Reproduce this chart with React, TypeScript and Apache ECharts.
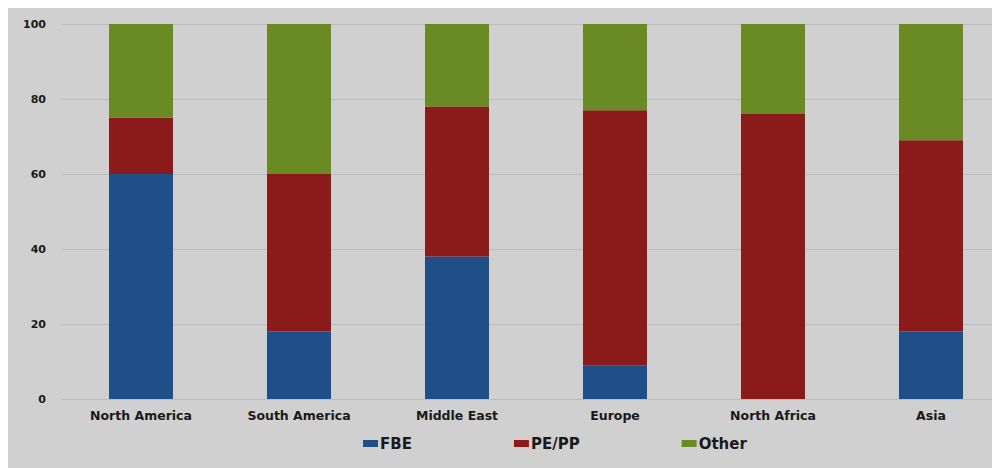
import React, { useEffect, useRef } from "react";
import * as echarts from "echarts";

const regions = ["North America", "South America", "Middle East", "Europe", "North Africa", "Asia"];
const fbe = [60, 18, 38, 9, 0, 18];
const pePp = [15, 42, 40, 68, 76, 51];
const other = [25, 40, 22, 23, 24, 31];
const yTicks = { min: 0, max: 100, interval: 20 };

const FONT = "'DejaVu Sans', Verdana, sans-serif";

export default function App() {
  const ref = useRef<HTMLDivElement>(null);

  useEffect(() => {
    if (!ref.current) return;
    const chart = echarts.init(ref.current, null, { renderer: "svg" });
    const mk = (name: string, data: number[], color: string) => ({
      name,
      type: "bar",
      stack: "total",
      data,
      barWidth: "40.5%",
      itemStyle: { color },
      emphasis: { disabled: true },
    });
    chart.setOption({
      animation: false,
      backgroundColor: "#d0d0d0",
      grid: { left: 54, right: 8, top: 16, bottom: 69, containLabel: false, outerBoundsMode: "none" },
      legend: {
        left: 350,
        top: 423,
        itemWidth: 15,
        itemHeight: 7,
        itemGap: 102,
        icon: "rect",
        textStyle: { fontFamily: FONT, fontWeight: "bold", fontSize: 15, color: "#1a1a1a", padding: [0, 0, 0, -3] },
        data: ["FBE", "PE/PP", "Other"],
      },
      xAxis: {
        type: "category",
        data: regions,
        axisLine: { show: true, lineStyle: { color: "#bcbcbc", width: 1 } },
        axisTick: { show: false },
        axisLabel: { fontFamily: FONT, fontWeight: "bold", fontSize: 12.5, color: "#1a1a1a", margin: 10 },
      },
      yAxis: {
        type: "value",
        min: yTicks.min,
        max: yTicks.max,
        interval: yTicks.interval,
        axisLine: { show: false },
        axisTick: { show: false },
        splitLine: { lineStyle: { color: "#bcbcbc", width: 1 } },
        axisLabel: { fontFamily: FONT, fontWeight: "bold", fontSize: 11, color: "#1a1a1a", margin: 16 },
      },
      series: [mk("FBE", fbe, "#1f4e89"), mk("PE/PP", pePp, "#8b1a1a"), mk("Other", other, "#6a8a23")],
    });
    return () => chart.dispose();
  }, []);

  // The plot runs past the right edge, so the chart is wider than its clipping frame.
  return (
    <div style={{ width: 992, height: 460, overflow: "hidden", background: "#d0d0d0" }}>
      <div ref={ref} style={{ width: 1010, height: 460 }} />
    </div>
  );
}
